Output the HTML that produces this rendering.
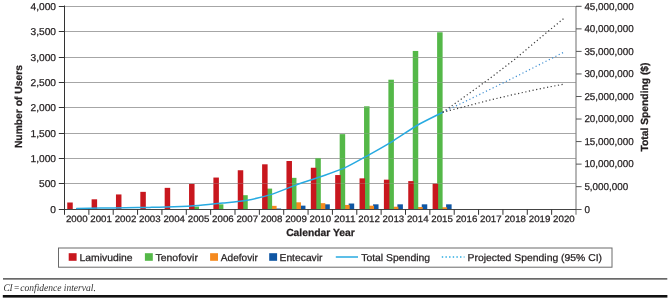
<!DOCTYPE html>
<html><head><meta charset="utf-8"><title>Figure</title>
<style>
html,body{margin:0;padding:0;background:#fff;}
svg{display:block}
text{font-family:"Liberation Sans",sans-serif;fill:#231f20;stroke:#231f20;stroke-width:0.25px;text-rendering:geometricPrecision}
.t{font-size:10px}
.x{font-size:9.2px}
.b{font-size:10.3px;font-weight:bold}
.l{font-size:10px}
.f{stroke:none;font-family:"Liberation Serif","DejaVu Serif",serif;font-style:italic;font-size:10.2px;fill:#333}
</style></head><body>
<svg width="671" height="301" viewBox="0 0 671 301">
<rect width="671" height="301" fill="#fff"/>
<line x1="64.5" x2="576.0" y1="183.50" y2="183.50" stroke="#a6a6a6" stroke-width="1"/>
<line x1="64.5" x2="576.0" y1="158.50" y2="158.50" stroke="#a6a6a6" stroke-width="1"/>
<line x1="64.5" x2="576.0" y1="133.50" y2="133.50" stroke="#a6a6a6" stroke-width="1"/>
<line x1="64.5" x2="576.0" y1="107.50" y2="107.50" stroke="#a6a6a6" stroke-width="1"/>
<line x1="64.5" x2="576.0" y1="82.50" y2="82.50" stroke="#a6a6a6" stroke-width="1"/>
<line x1="64.5" x2="576.0" y1="57.50" y2="57.50" stroke="#a6a6a6" stroke-width="1"/>
<line x1="64.5" x2="576.0" y1="31.50" y2="31.50" stroke="#a6a6a6" stroke-width="1"/>
<line x1="64.5" x2="576.0" y1="6.50" y2="6.50" stroke="#a6a6a6" stroke-width="1"/>
<rect x="275.61" y="208.54" width="5.50" height="1.26" fill="#0f56a3"/>
<rect x="299.96" y="205.65" width="5.50" height="4.15" fill="#0f56a3"/>
<rect x="324.32" y="204.33" width="5.50" height="5.47" fill="#0f56a3"/>
<rect x="348.68" y="203.52" width="5.50" height="6.28" fill="#0f56a3"/>
<rect x="373.04" y="204.33" width="5.50" height="5.47" fill="#0f56a3"/>
<rect x="397.39" y="204.33" width="5.50" height="5.47" fill="#0f56a3"/>
<rect x="421.75" y="204.33" width="5.50" height="5.47" fill="#0f56a3"/>
<rect x="446.11" y="204.33" width="5.50" height="5.47" fill="#0f56a3"/>
<rect x="271.11" y="205.85" width="5.50" height="3.95" fill="#f58a1f"/>
<rect x="295.46" y="202.30" width="5.50" height="7.50" fill="#f58a1f"/>
<rect x="319.82" y="203.16" width="5.50" height="6.64" fill="#f58a1f"/>
<rect x="344.18" y="204.94" width="5.50" height="4.86" fill="#f58a1f"/>
<rect x="368.54" y="205.70" width="5.50" height="4.10" fill="#f58a1f"/>
<rect x="392.89" y="206.71" width="5.50" height="3.09" fill="#f58a1f"/>
<rect x="417.25" y="207.02" width="5.50" height="2.78" fill="#f58a1f"/>
<rect x="441.61" y="207.27" width="5.50" height="2.53" fill="#f58a1f"/>
<rect x="193.54" y="206.61" width="5.50" height="3.19" fill="#54b848"/>
<rect x="217.89" y="204.33" width="5.50" height="5.47" fill="#54b848"/>
<rect x="242.25" y="195.20" width="5.50" height="14.60" fill="#54b848"/>
<rect x="266.61" y="188.61" width="5.50" height="21.19" fill="#54b848"/>
<rect x="290.96" y="177.85" width="5.50" height="31.95" fill="#54b848"/>
<rect x="315.32" y="157.97" width="5.50" height="51.83" fill="#54b848"/>
<rect x="339.68" y="134.13" width="5.50" height="75.67" fill="#54b848"/>
<rect x="364.04" y="106.29" width="5.50" height="103.51" fill="#54b848"/>
<rect x="388.39" y="79.71" width="5.50" height="130.09" fill="#54b848"/>
<rect x="412.75" y="50.95" width="5.50" height="158.85" fill="#54b848"/>
<rect x="437.11" y="32.29" width="5.50" height="177.51" fill="#54b848"/>
<rect x="67.25" y="202.50" width="5.50" height="7.30" fill="#c8171e"/>
<rect x="91.61" y="199.31" width="5.50" height="10.49" fill="#c8171e"/>
<rect x="115.96" y="194.44" width="5.50" height="15.36" fill="#c8171e"/>
<rect x="140.32" y="191.85" width="5.50" height="17.95" fill="#c8171e"/>
<rect x="164.68" y="187.85" width="5.50" height="21.95" fill="#c8171e"/>
<rect x="189.04" y="183.94" width="5.50" height="25.86" fill="#c8171e"/>
<rect x="213.39" y="177.55" width="5.50" height="32.25" fill="#c8171e"/>
<rect x="237.75" y="170.25" width="5.50" height="39.55" fill="#c8171e"/>
<rect x="262.11" y="164.31" width="5.50" height="45.49" fill="#c8171e"/>
<rect x="286.46" y="161.01" width="5.50" height="48.79" fill="#c8171e"/>
<rect x="310.82" y="167.76" width="5.50" height="42.04" fill="#c8171e"/>
<rect x="335.18" y="175.06" width="5.50" height="34.74" fill="#c8171e"/>
<rect x="359.54" y="178.36" width="5.50" height="31.44" fill="#c8171e"/>
<rect x="383.89" y="179.68" width="5.50" height="30.12" fill="#c8171e"/>
<rect x="408.25" y="181.10" width="5.50" height="28.70" fill="#c8171e"/>
<rect x="432.61" y="183.69" width="5.50" height="26.11" fill="#c8171e"/>
<line x1="64.5" x2="576.0" y1="183.50" y2="183.50" stroke="#a6a6a6" stroke-width="1" opacity="0.3"/>
<line x1="64.5" x2="576.0" y1="158.50" y2="158.50" stroke="#a6a6a6" stroke-width="1" opacity="0.3"/>
<line x1="64.5" x2="576.0" y1="133.50" y2="133.50" stroke="#a6a6a6" stroke-width="1" opacity="0.3"/>
<line x1="64.5" x2="576.0" y1="107.50" y2="107.50" stroke="#a6a6a6" stroke-width="1" opacity="0.3"/>
<line x1="64.5" x2="576.0" y1="82.50" y2="82.50" stroke="#a6a6a6" stroke-width="1" opacity="0.3"/>
<line x1="64.5" x2="576.0" y1="57.50" y2="57.50" stroke="#a6a6a6" stroke-width="1" opacity="0.3"/>
<line x1="64.5" x2="576.0" y1="31.50" y2="31.50" stroke="#a6a6a6" stroke-width="1" opacity="0.3"/>
<line x1="64.5" x2="576.0" y1="6.50" y2="6.50" stroke="#a6a6a6" stroke-width="1" opacity="0.3"/>
<line x1="64.5" x2="64.5" y1="5.5" y2="210.0" stroke="#333" stroke-width="1"/>
<line x1="576.0" x2="576.0" y1="6.0" y2="214.7" stroke="#858585" stroke-width="1.2"/>
<line x1="64.0" x2="576.5" y1="209.5" y2="209.5" stroke="#444" stroke-width="1"/>
<line x1="58.8" x2="64.5" y1="209.50" y2="209.50" stroke="#333" stroke-width="1"/>
<text x="50.33" y="212.90" class="t" textLength="5.67" lengthAdjust="spacingAndGlyphs">0</text>
<line x1="58.8" x2="64.5" y1="183.50" y2="183.50" stroke="#333" stroke-width="1"/>
<text x="38.99" y="186.90" class="t" textLength="17.01" lengthAdjust="spacingAndGlyphs">500</text>
<line x1="58.8" x2="64.5" y1="158.50" y2="158.50" stroke="#333" stroke-width="1"/>
<text x="30.48" y="161.90" class="t" textLength="25.52" lengthAdjust="spacingAndGlyphs">1,000</text>
<line x1="58.8" x2="64.5" y1="133.50" y2="133.50" stroke="#333" stroke-width="1"/>
<text x="30.48" y="136.90" class="t" textLength="25.52" lengthAdjust="spacingAndGlyphs">1,500</text>
<line x1="58.8" x2="64.5" y1="107.50" y2="107.50" stroke="#333" stroke-width="1"/>
<text x="30.48" y="110.90" class="t" textLength="25.52" lengthAdjust="spacingAndGlyphs">2,000</text>
<line x1="58.8" x2="64.5" y1="82.50" y2="82.50" stroke="#333" stroke-width="1"/>
<text x="30.48" y="85.90" class="t" textLength="25.52" lengthAdjust="spacingAndGlyphs">2,500</text>
<line x1="58.8" x2="64.5" y1="57.50" y2="57.50" stroke="#333" stroke-width="1"/>
<text x="30.48" y="60.90" class="t" textLength="25.52" lengthAdjust="spacingAndGlyphs">3,000</text>
<line x1="58.8" x2="64.5" y1="31.50" y2="31.50" stroke="#333" stroke-width="1"/>
<text x="30.48" y="34.90" class="t" textLength="25.52" lengthAdjust="spacingAndGlyphs">3,500</text>
<line x1="58.8" x2="64.5" y1="6.50" y2="6.50" stroke="#333" stroke-width="1"/>
<text x="30.48" y="9.90" class="t" textLength="25.52" lengthAdjust="spacingAndGlyphs">4,000</text>
<line x1="576.0" x2="581.6" y1="209.50" y2="209.50" stroke="#555" stroke-width="1"/>
<text x="584.4" y="212.70" class="t" textLength="5.48" lengthAdjust="spacingAndGlyphs">0</text>
<line x1="576.0" x2="581.6" y1="186.66" y2="186.66" stroke="#555" stroke-width="1"/>
<text x="584.4" y="189.86" class="t" textLength="43.81" lengthAdjust="spacingAndGlyphs">5,000,000</text>
<line x1="576.0" x2="581.6" y1="164.12" y2="164.12" stroke="#555" stroke-width="1"/>
<text x="584.4" y="167.32" class="t" textLength="49.29" lengthAdjust="spacingAndGlyphs">10,000,000</text>
<line x1="576.0" x2="581.6" y1="141.57" y2="141.57" stroke="#555" stroke-width="1"/>
<text x="584.4" y="144.77" class="t" textLength="49.29" lengthAdjust="spacingAndGlyphs">15,000,000</text>
<line x1="576.0" x2="581.6" y1="119.03" y2="119.03" stroke="#555" stroke-width="1"/>
<text x="584.4" y="122.23" class="t" textLength="49.29" lengthAdjust="spacingAndGlyphs">20,000,000</text>
<line x1="576.0" x2="581.6" y1="96.49" y2="96.49" stroke="#555" stroke-width="1"/>
<text x="584.4" y="99.69" class="t" textLength="49.29" lengthAdjust="spacingAndGlyphs">25,000,000</text>
<line x1="576.0" x2="581.6" y1="73.95" y2="73.95" stroke="#555" stroke-width="1"/>
<text x="584.4" y="77.15" class="t" textLength="49.29" lengthAdjust="spacingAndGlyphs">30,000,000</text>
<line x1="576.0" x2="581.6" y1="51.40" y2="51.40" stroke="#555" stroke-width="1"/>
<text x="584.4" y="54.60" class="t" textLength="49.29" lengthAdjust="spacingAndGlyphs">35,000,000</text>
<line x1="576.0" x2="581.6" y1="28.86" y2="28.86" stroke="#555" stroke-width="1"/>
<text x="584.4" y="32.06" class="t" textLength="49.29" lengthAdjust="spacingAndGlyphs">40,000,000</text>
<line x1="576.0" x2="581.6" y1="6.32" y2="6.32" stroke="#555" stroke-width="1"/>
<text x="584.4" y="9.52" class="t" textLength="49.29" lengthAdjust="spacingAndGlyphs">45,000,000</text>
<line x1="64.50" x2="64.50" y1="209.5" y2="214.8" stroke="#333" stroke-width="1"/>
<line x1="88.86" x2="88.86" y1="209.5" y2="214.8" stroke="#333" stroke-width="1"/>
<line x1="113.21" x2="113.21" y1="209.5" y2="214.8" stroke="#333" stroke-width="1"/>
<line x1="137.57" x2="137.57" y1="209.5" y2="214.8" stroke="#333" stroke-width="1"/>
<line x1="161.93" x2="161.93" y1="209.5" y2="214.8" stroke="#333" stroke-width="1"/>
<line x1="186.29" x2="186.29" y1="209.5" y2="214.8" stroke="#333" stroke-width="1"/>
<line x1="210.64" x2="210.64" y1="209.5" y2="214.8" stroke="#333" stroke-width="1"/>
<line x1="235.00" x2="235.00" y1="209.5" y2="214.8" stroke="#333" stroke-width="1"/>
<line x1="259.36" x2="259.36" y1="209.5" y2="214.8" stroke="#333" stroke-width="1"/>
<line x1="283.71" x2="283.71" y1="209.5" y2="214.8" stroke="#333" stroke-width="1"/>
<line x1="308.07" x2="308.07" y1="209.5" y2="214.8" stroke="#333" stroke-width="1"/>
<line x1="332.43" x2="332.43" y1="209.5" y2="214.8" stroke="#333" stroke-width="1"/>
<line x1="356.79" x2="356.79" y1="209.5" y2="214.8" stroke="#333" stroke-width="1"/>
<line x1="381.14" x2="381.14" y1="209.5" y2="214.8" stroke="#333" stroke-width="1"/>
<line x1="405.50" x2="405.50" y1="209.5" y2="214.8" stroke="#333" stroke-width="1"/>
<line x1="429.86" x2="429.86" y1="209.5" y2="214.8" stroke="#333" stroke-width="1"/>
<line x1="454.21" x2="454.21" y1="209.5" y2="214.8" stroke="#333" stroke-width="1"/>
<line x1="478.57" x2="478.57" y1="209.5" y2="214.8" stroke="#333" stroke-width="1"/>
<line x1="502.93" x2="502.93" y1="209.5" y2="214.8" stroke="#333" stroke-width="1"/>
<line x1="527.29" x2="527.29" y1="209.5" y2="214.8" stroke="#333" stroke-width="1"/>
<line x1="551.64" x2="551.64" y1="209.5" y2="214.8" stroke="#333" stroke-width="1"/>
<text x="65.98" y="222.0" class="x" textLength="21.6" lengthAdjust="spacingAndGlyphs">2000</text>
<text x="90.34" y="222.0" class="x" textLength="21.6" lengthAdjust="spacingAndGlyphs">2001</text>
<text x="114.69" y="222.0" class="x" textLength="21.6" lengthAdjust="spacingAndGlyphs">2002</text>
<text x="139.05" y="222.0" class="x" textLength="21.6" lengthAdjust="spacingAndGlyphs">2003</text>
<text x="163.41" y="222.0" class="x" textLength="21.6" lengthAdjust="spacingAndGlyphs">2004</text>
<text x="187.76" y="222.0" class="x" textLength="21.6" lengthAdjust="spacingAndGlyphs">2005</text>
<text x="212.12" y="222.0" class="x" textLength="21.6" lengthAdjust="spacingAndGlyphs">2006</text>
<text x="236.48" y="222.0" class="x" textLength="21.6" lengthAdjust="spacingAndGlyphs">2007</text>
<text x="260.84" y="222.0" class="x" textLength="21.6" lengthAdjust="spacingAndGlyphs">2008</text>
<text x="285.19" y="222.0" class="x" textLength="21.6" lengthAdjust="spacingAndGlyphs">2009</text>
<text x="309.55" y="222.0" class="x" textLength="21.6" lengthAdjust="spacingAndGlyphs">2010</text>
<text x="333.91" y="222.0" class="x" textLength="21.6" lengthAdjust="spacingAndGlyphs">2011</text>
<text x="358.26" y="222.0" class="x" textLength="21.6" lengthAdjust="spacingAndGlyphs">2012</text>
<text x="382.62" y="222.0" class="x" textLength="21.6" lengthAdjust="spacingAndGlyphs">2013</text>
<text x="406.98" y="222.0" class="x" textLength="21.6" lengthAdjust="spacingAndGlyphs">2014</text>
<text x="431.34" y="222.0" class="x" textLength="21.6" lengthAdjust="spacingAndGlyphs">2015</text>
<text x="455.69" y="222.0" class="x" textLength="21.6" lengthAdjust="spacingAndGlyphs">2016</text>
<text x="480.05" y="222.0" class="x" textLength="21.6" lengthAdjust="spacingAndGlyphs">2017</text>
<text x="504.41" y="222.0" class="x" textLength="21.6" lengthAdjust="spacingAndGlyphs">2018</text>
<text x="528.76" y="222.0" class="x" textLength="21.6" lengthAdjust="spacingAndGlyphs">2019</text>
<text x="553.12" y="222.0" class="x" textLength="21.6" lengthAdjust="spacingAndGlyphs">2020</text>
<path d="M76.68,208.40 C79.52,208.37 95.35,208.17 101.04,208.10 C106.72,208.03 119.71,207.88 125.39,207.80 C131.08,207.72 144.07,207.52 149.75,207.40 C155.43,207.28 168.42,207.02 174.11,206.80 C179.79,206.58 192.78,205.93 198.46,205.50 C204.15,205.07 217.14,203.72 222.82,203.10 C228.50,202.48 241.50,201.21 247.18,200.20 C252.86,199.19 265.85,196.16 271.54,194.40 C277.22,192.64 290.21,187.15 295.89,185.10 C301.58,183.05 314.57,178.81 320.25,176.80 C325.93,174.79 338.92,170.47 344.61,167.90 C350.29,165.33 363.28,157.96 368.96,154.80 C374.65,151.64 387.64,144.28 393.32,140.80 C399.00,137.32 412.00,128.29 417.68,125.00 C423.36,121.71 439.19,114.05 442.04,112.60" fill="none" stroke="#27aae1" stroke-width="1.5" stroke-linejoin="round" stroke-linecap="round"/>
<path d="M442.64,112.30 L466.39,95.40 L490.75,77.75 L515.11,59.00 L539.46,38.50 L563.82,18.40" fill="none" stroke="#3c3c3c" stroke-width="1.2" stroke-dasharray="1.2 2.5"/>
<path d="M442.64,112.30 L466.39,100.90 L490.75,89.00 L515.11,77.00 L539.46,64.60 L563.82,52.20" fill="none" stroke="#3f8fd2" stroke-width="1.2" stroke-dasharray="1.2 2.5"/>
<path d="M442.64,112.30 L466.39,106.20 L490.75,99.80 L515.11,94.20 L539.46,88.90 L563.82,84.10" fill="none" stroke="#3c3c3c" stroke-width="1.2" stroke-dasharray="1.2 2.5"/>
<text transform="translate(21.7 106.6) rotate(-90)" text-anchor="middle" class="b">Number of Users</text>
<text transform="translate(648.1 107) rotate(-90)" text-anchor="middle" class="b">Total Spending ($)</text>
<text x="320.4" y="235.7" text-anchor="middle" class="b">Calendar Year</text>
<rect x="58.5" y="248" width="553.5" height="19.2" fill="#fff" stroke="#6a6a6a" stroke-width="1"/>
<rect x="68.7" y="253.2" width="7.9" height="7.6" fill="#c8171e"/>
<text x="79.5" y="261" class="l" textLength="53.1" lengthAdjust="spacingAndGlyphs">Lamivudine</text>
<rect x="144.9" y="253.2" width="7.9" height="7.6" fill="#54b848"/>
<text x="155.5" y="261" class="l" textLength="42.4" lengthAdjust="spacingAndGlyphs">Tenofovir</text>
<rect x="210.1" y="253.2" width="7.9" height="7.6" fill="#f58a1f"/>
<text x="220.8" y="261" class="l" textLength="37.0" lengthAdjust="spacingAndGlyphs">Adefovir</text>
<rect x="269.2" y="253.2" width="7.9" height="7.6" fill="#0f56a3"/>
<text x="279.5" y="261" class="l" textLength="43.0" lengthAdjust="spacingAndGlyphs">Entecavir</text>
<line x1="335.8" x2="358" y1="257" y2="257" stroke="#27aae1" stroke-width="1.5"/>
<text x="361.2" y="261" class="l" textLength="68.9" lengthAdjust="spacingAndGlyphs">Total Spending</text>
<line x1="441.8" x2="464.5" y1="257" y2="257" stroke="#27aae1" stroke-width="1.4" stroke-dasharray="1.4 2.25"/>
<text x="467.5" y="261" class="l" textLength="134.6" lengthAdjust="spacingAndGlyphs">Projected Spending (95% CI)</text>
<rect x="3" y="278.3" width="664.3" height="1.2" fill="#2a2a2a"/>
<rect x="2.8" y="295" width="664.6" height="2.6" fill="#111"/>
<text y="290.8" class="f"><tspan x="3.4" textLength="9.2" lengthAdjust="spacingAndGlyphs">CI</tspan> <tspan x="13.4" textLength="6.2" lengthAdjust="spacingAndGlyphs">=</tspan> <tspan x="20.3" textLength="41.2" lengthAdjust="spacingAndGlyphs">confidence</tspan> <tspan x="63.8" textLength="32" lengthAdjust="spacingAndGlyphs">interval.</tspan></text>
</svg>
</body></html>
